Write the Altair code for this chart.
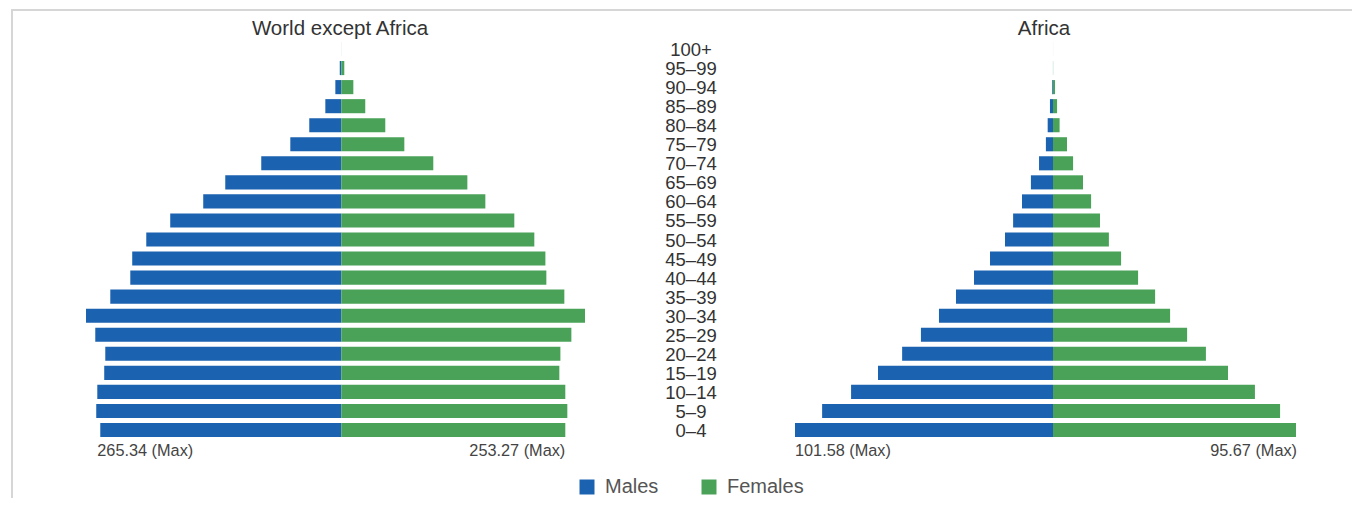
import altair as alt
import pandas as pd

# ---------------- data ----------------
ages = ["0–4", "5–9", "10–14", "15–19", "20–24", "25–29", "30–34", "35–39",
        "40–44", "45–49", "50–54", "55–59", "60–64", "65–69", "70–74", "75–79",
        "80–84", "85–89", "90–94", "95–99", "100+"]

world_male = [250.5, 254.7, 253.6, 246.4, 245.3, 255.7, 265.34, 240.1, 219.3, 217.3,
              202.7, 177.8, 143.5, 120.6, 83.2, 53.0, 33.3, 16.6, 6.2, 1.6, 0.02]
world_female = [232.8, 234.9, 232.8, 226.6, 227.7, 239.1, 253.27, 231.8, 213.1, 212.1,
                200.6, 179.8, 149.7, 131.0, 95.6, 65.5, 45.7, 24.9, 12.5, 3.1, 0.04]
africa_male = [101.58, 90.9, 79.5, 68.9, 59.4, 52.0, 44.9, 38.2, 31.1, 24.8,
               18.9, 15.7, 12.2, 8.7, 5.5, 2.8, 2.1, 1.2, 0.3, 0.02, 0.005]
africa_female = [95.67, 89.4, 79.5, 68.9, 60.2, 52.8, 46.1, 40.2, 33.5, 26.8,
                 22.0, 18.5, 15.0, 11.8, 7.9, 5.5, 2.6, 1.6, 0.8, 0.05, 0.01]

panel_titles = ["World except Africa", "Africa"]
sexes = ["Males", "Females"]
colors = ["#1b62b0", "#49a257"]

FONT = "Liberation Sans"

# ---------------- tables ----------------
def pyramid(male, female):
    rows = []
    for a, m, f in zip(ages, male, female):
        rows.append({"age": a, "sex": "Males", "value": -m})
        rows.append({"age": a, "sex": "Females", "value": f})
    return pd.DataFrame(rows)

world_df = pyramid(world_male, world_female)
africa_df = pyramid(africa_male, africa_female)
age_df = pd.DataFrame({"age": ages})

ages_top = list(reversed(ages))
yscale = alt.Scale(domain=ages_top, range=[31.5, 431.5], paddingInner=0.26, paddingOuter=0.13)
world_x = alt.Scale(domain=[-max(world_male), max(world_female)], range=[78, 577])
africa_x = alt.Scale(domain=[-max(africa_male), max(africa_female)], range=[787, 1288])
color_scale = alt.Scale(domain=sexes, range=colors)

legend = alt.Legend(orient="none", legendX=569, legendY=469, direction="horizontal",
                    title=None, symbolType="square", symbolSize=225, symbolStrokeWidth=0,
                    labelFontSize=20, labelFont=FONT, labelColor="#555555",
                    labelOffset=8, columnPadding=40, padding=0)


def bars(df, xs):
    return alt.Chart(df).mark_bar().encode(
        x=alt.X("value:Q", scale=xs, axis=None, stack=None),
        y=alt.Y("age:N", scale=yscale, axis=None),
        color=alt.Color("sex:N", scale=color_scale, legend=legend),
    )


def max_label(value, text, xs, align, dx):
    d = pd.DataFrame({"v": [value], "t": [text]})
    return alt.Chart(d).mark_text(align=align, baseline="middle", fontSize=16.3,
                                  font=FONT, color="#444444", dx=dx).encode(
        x=alt.X("v:Q", scale=xs, axis=None),
        y=alt.value(443),
        text="t:N",
    )


def title_text(text, xpos):
    d = pd.DataFrame({"t": [text]})
    return alt.Chart(d).mark_text(align="center", baseline="middle", fontSize=20.5,
                                  font=FONT, color="#333333").encode(
        x=alt.value(xpos), y=alt.value(21), text="t:N")


age_labels = alt.Chart(age_df).mark_text(align="center", baseline="middle", fontSize=18.5,
                                         font=FONT, color="#333333", dy=1).encode(
    x=alt.value(683),
    y=alt.Y("age:N", scale=yscale, axis=None),
    text="age:N",
)

one = pd.DataFrame({"a": [0]})
border_top = alt.Chart(one).mark_rule(color="#d6d6d6", strokeWidth=2).encode(
    x=alt.value(3), x2=alt.value(1344), y=alt.value(2))
border_left = alt.Chart(one).mark_rule(color="#d6d6d6", strokeWidth=2).encode(
    x=alt.value(4), y=alt.value(1), y2=alt.value(490))

chart = alt.layer(
    border_top,
    border_left,
    bars(world_df, world_x),
    bars(africa_df, africa_x),
    age_labels,
    title_text(panel_titles[0], 332),
    title_text(panel_titles[1], 1036),
    max_label(-world_male[0], f"{max(world_male):.2f} (Max)", world_x, "left", -3),
    max_label(world_female[0], f"{max(world_female):.2f} (Max)", world_x, "right", 0),
    max_label(-africa_male[0], f"{max(africa_male):.2f} (Max)", africa_x, "left", 0),
    max_label(africa_female[0], f"{max(africa_female):.2f} (Max)", africa_x, "right", 1),
).resolve_scale(x="independent").properties(
    width=1344, height=490,
    autosize=alt.AutoSizeParams(type="none"),
    padding=0,
).configure_view(stroke=None)

chart.save("out.html", embed_options={"renderer": "svg", "actions": False})
